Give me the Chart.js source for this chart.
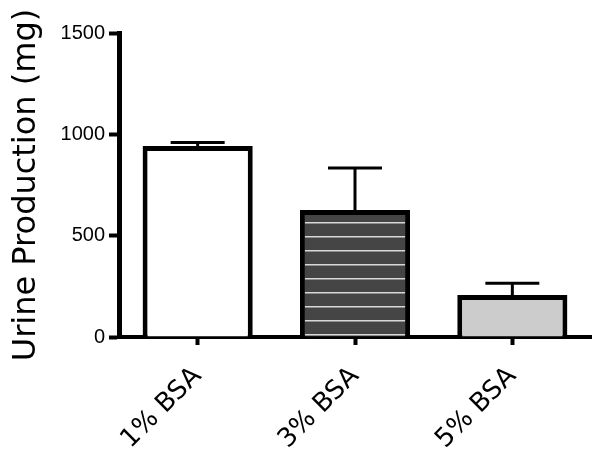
<!DOCTYPE html>
<html>
<head>
<meta charset="utf-8">
<script src="https://cdn.jsdelivr.net/npm/chart.js@4"></script>
<style>
  html, body { margin: 0; padding: 0; background: #fff; }
  #wrap { width: 602px; height: 463px; }
</style>
</head>
<body>
<div id="wrap"><canvas id="urineChart"></canvas></div>
<script>
const groups = ['1% BSA', '3% BSA', '5% BSA'];
const urineMeans = [942, 627, 207];
const urineErrors = [18, 207, 58];
const yTicks = [0, 500, 1000, 1500];

function makeStripePattern() {
    const c = document.createElement('canvas');
    c.width = 16;
    c.height = 14;
    const g = c.getContext('2d');
    g.fillStyle = '#454545';
    g.fillRect(0, 0, 16, 14);
    g.fillStyle = '#d8d8d8';
    g.fillRect(0, 12, 16, 1.5);
    const ctx = document.getElementById('urineChart').getContext('2d');
    return ctx.createPattern(c, 'repeat');
}

// draws the SEM whiskers on top of each bar
const errorBars = {
    id: 'errorBars',
    afterDatasetsDraw(chart) {
        const ctx = chart.ctx;
        const meta = chart.getDatasetMeta(0);
        const yScale = chart.scales.y;
        ctx.save();
        ctx.strokeStyle = '#000';
        ctx.lineWidth = 3;
        meta.data.forEach((bar, i) => {
            const x = bar.x;
            const yMean = yScale.getPixelForValue(urineMeans[i]);
            const yTop = yScale.getPixelForValue(urineMeans[i] + urineErrors[i]);
            ctx.beginPath();
            ctx.moveTo(x, yMean);
            ctx.lineTo(x, yTop);
            ctx.moveTo(x - 27, yTop);
            ctx.lineTo(x + 27, yTop);
            ctx.stroke();
        });
        ctx.restore();
    }
};

document.addEventListener('DOMContentLoaded', function() {
    const ctx = document.getElementById('urineChart').getContext('2d');
    new Chart(ctx, {
        type: 'bar',
        data: {
            labels: groups,
            datasets: [{
                data: urineMeans,
                backgroundColor: ['#ffffff', makeStripePattern(), '#cccccc'],
                borderColor: '#000',
                borderWidth: 5,
                borderSkipped: 'bottom',
                barPercentage: 0.7,
                categoryPercentage: 1.0
            }]
        },
        options: {
            responsive: true,
            maintainAspectRatio: false,
            animation: false,
            layout: {
                padding: { left: 4, top: 33, right: 11, bottom: 0 }
            },
            scales: {
                x: {
                    afterFit: function(scale) { scale.height = 126; },
                    border: { display: true, color: '#000', width: 4 },
                    grid: {
                        offset: false,
                        drawOnChartArea: false,
                        tickLength: 8,
                        tickWidth: 4,
                        tickColor: '#000'
                    },
                    ticks: {
                        minRotation: 45,
                        maxRotation: 45,
                        padding: 16,
                        color: '#000',
                        font: { family: "'DejaVu Sans', Verdana, sans-serif", size: 26 }
                    }
                },
                y: {
                    min: 0,
                    max: 1500,
                    afterFit: function(scale) { scale.width = 115; },
                    afterBuildTicks: function(scale) {
                        scale.ticks = yTicks.map(v => ({ value: v }));
                    },
                    border: { display: true, color: '#000', width: 5 },
                    grid: {
                        drawOnChartArea: false,
                        tickLength: 10,
                        tickWidth: 4,
                        tickColor: '#000'
                    },
                    ticks: {
                        padding: 4,
                        color: '#000',
                        callback: function(value) { return String(value); },
                        font: { family: "'Liberation Sans', Arial, sans-serif", size: 20 }
                    },
                    title: {
                        display: true,
                        text: 'Urine Production (mg)',
                        color: '#000',
                        padding: { top: 3, bottom: 0 },
                        font: { family: "'DejaVu Sans', Verdana, sans-serif", size: 32 }
                    }
                }
            },
            plugins: {
                legend: { display: false },
                tooltip: { enabled: false }
            }
        },
        plugins: [errorBars]
    });
});
</script>
</body>
</html>
